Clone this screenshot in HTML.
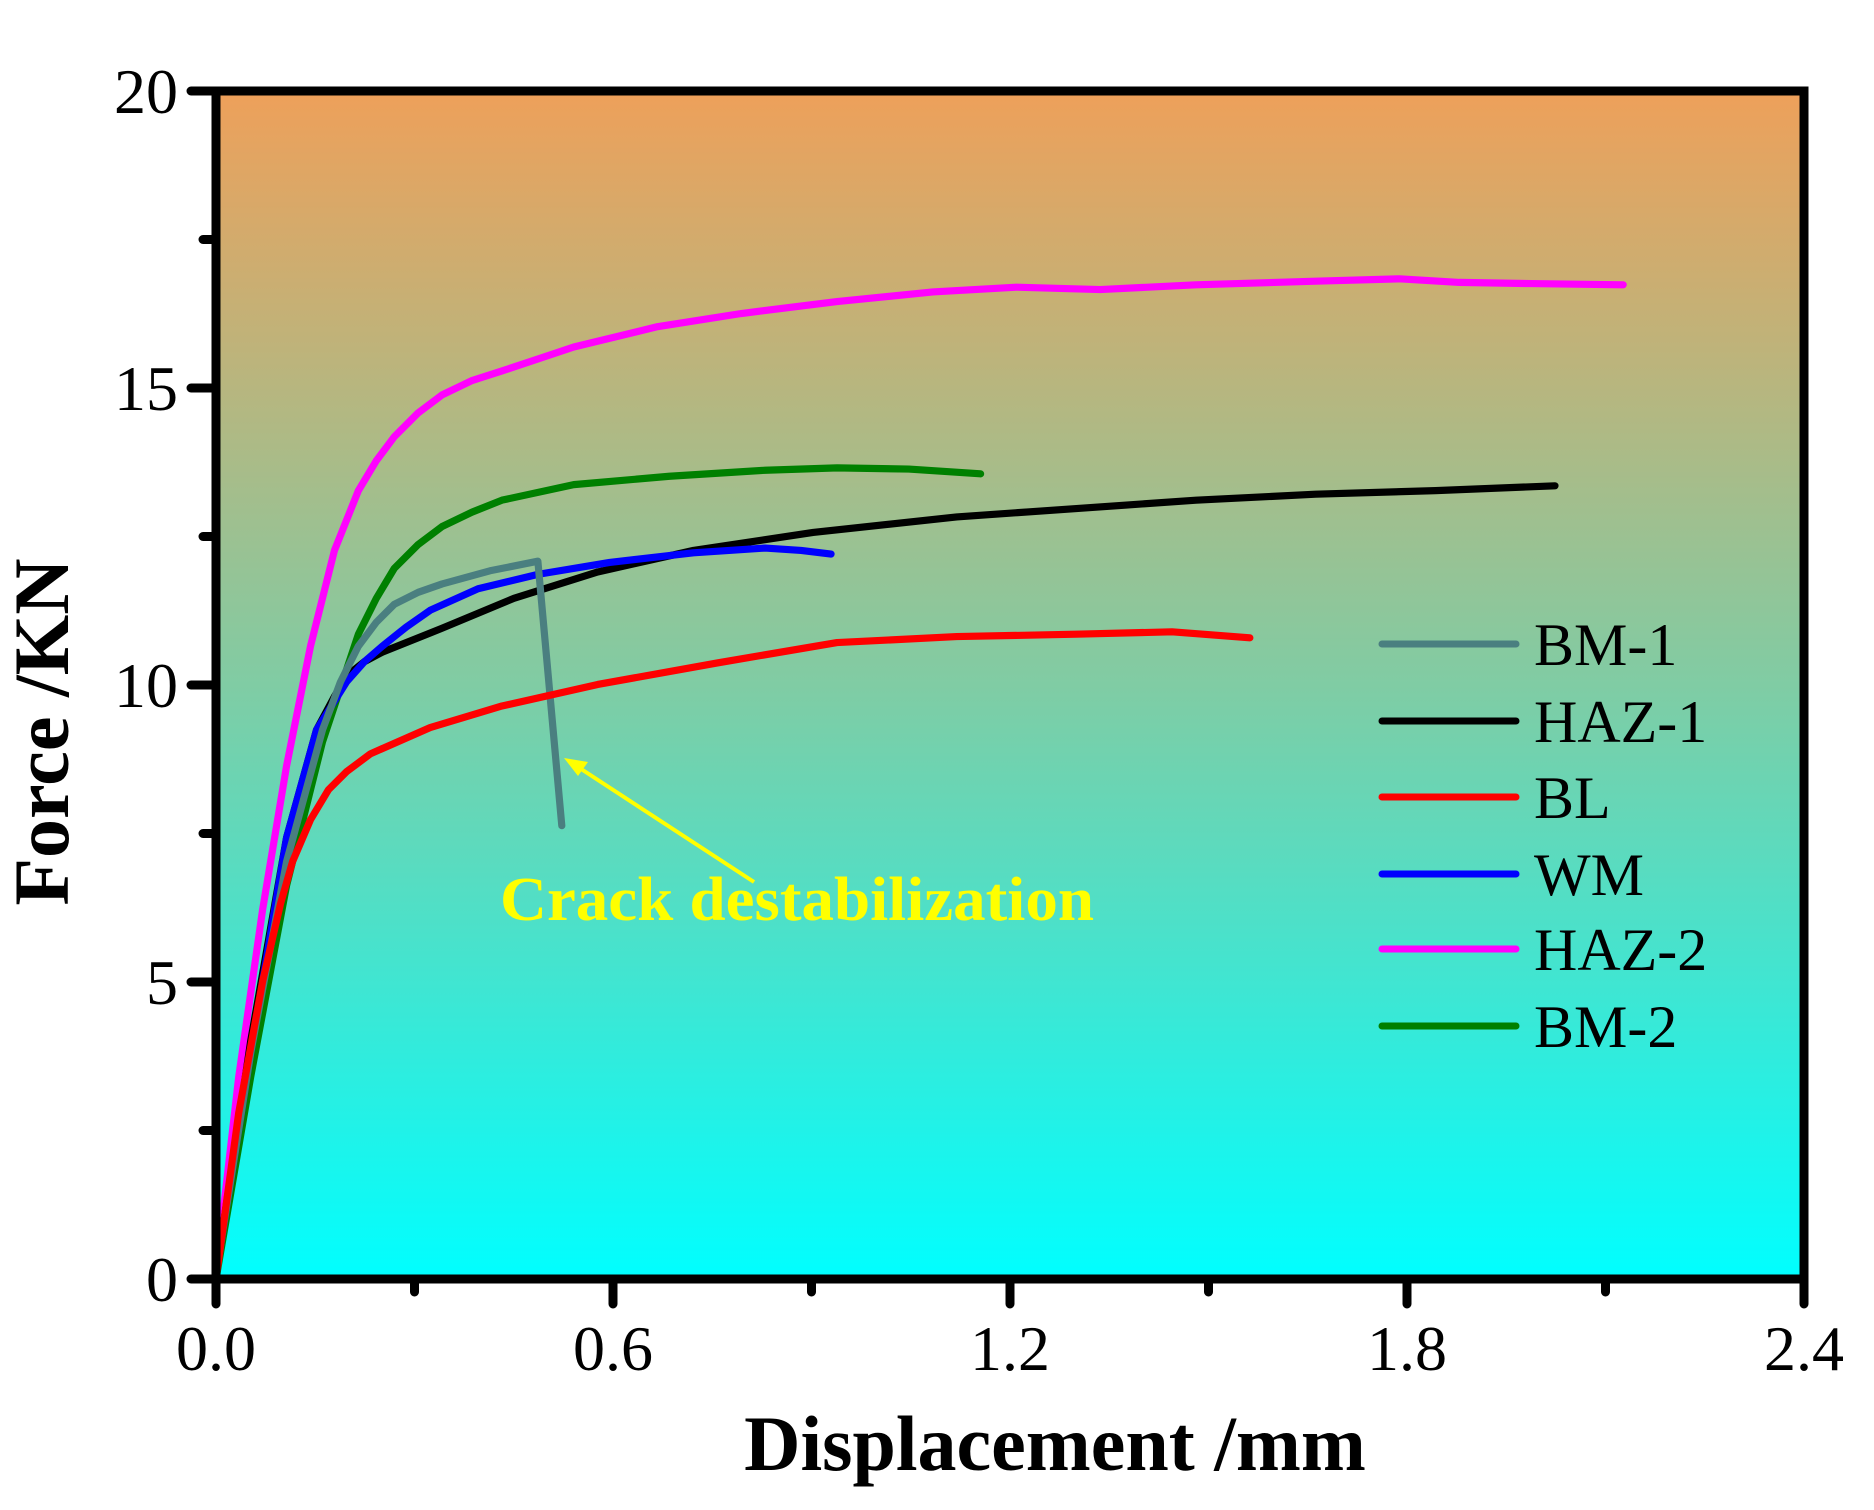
<!DOCTYPE html>
<html><head><style>html,body{margin:0;padding:0;background:#fff}svg{display:block}</style></head><body>
<svg width="1874" height="1510" viewBox="0 0 1874 1510" xmlns="http://www.w3.org/2000/svg">
<defs><linearGradient id="bg" x1="0" y1="0" x2="0" y2="1">
<stop offset="0" stop-color="#EEA05A"/><stop offset="0.5" stop-color="#80CCA4"/><stop offset="1" stop-color="#00FFFF"/></linearGradient></defs>
<rect x="216" y="91" width="1588" height="1188" fill="url(#bg)"/>
<g transform="translate(-0.6,0) scale(1.1966)" fill="none" stroke-width="6" stroke-linecap="round" stroke-linejoin="round">
<path stroke="#F0F" d="M181,1065 L200,900 L220,760 L240,640 L260,540 L280,460 L300,410 L315,385 L330,365 L350,345 L370,330 L395,318 L420,310 L450,300 L480,290 L550,273 L620,262 L700,252 L780,244 L850,240 L920,242 L1000,238 L1100,235 L1170,233 L1220,236 L1280,237 L1357,238"/>
<path stroke="#008000" d="M181,1069 L210,900 L240,740 L270,620 L300,530 L315,500 L330,475 L350,455 L370,440 L395,428 L420,418 L480,405 L560,398 L640,393 L700,391 L760,392 L820,396"/>
<path stroke="#000" d="M181,1065 L210,870 L240,700 L265,610 L280,582 L290,565 L305,553 L320,545 L370,525 L430,500 L500,478 L580,460 L680,445 L800,432 L900,425 L1000,418 L1100,413 L1200,410 L1300,406"/>
<path stroke="#0000FF" d="M181,1065 L210,880 L240,700 L265,610 L290,570 L305,553 L320,540 L340,524 L360,510 L400,492 L450,480 L510,470 L580,462 L640,458 L670,460 L695,463"/>
<path stroke="#4A7F80" d="M181,1065 L210,880 L240,720 L270,610 L285,570 L300,540 L315,520 L330,505 L350,495 L370,488 L410,477 L450,469 L470,690"/>
<path stroke="#F00" d="M181,1069 L200,930 L220,820 L235,755 L245,720 L260,685 L275,660 L290,645 L310,630 L360,608 L420,590 L500,572 L600,554 L700,537 L800,532 L900,530 L980,528 L1045,533"/>
</g>
<g stroke="#000" stroke-width="9" stroke-linecap="round" fill="none">
<rect x="216" y="91" width="1588" height="1188" stroke-linecap="butt"/>
<path d="M216,1279V1304M613,1279V1304M1010,1279V1304M1407,1279V1304M1804,1279V1304"/>
<path d="M414.5,1279V1292M811.5,1279V1292M1208.5,1279V1292M1605.5,1279V1292"/>
<path d="M216,1279H191M216,982H191M216,685H191M216,388H191M216,91H191"/>
<path d="M216,1130.5H203M216,833.5H203M216,536.5H203M216,239.5H203"/>
</g>
<g font-family="Liberation Serif, serif" font-size="64" fill="#000">
<g text-anchor="end"><text x="178" y="1301">0</text><text x="178" y="1004">5</text><text x="178" y="707">10</text><text x="178" y="410">15</text><text x="178" y="113">20</text></g>
<g text-anchor="middle"><text x="216" y="1370">0.0</text><text x="613" y="1370">0.6</text><text x="1010" y="1370">1.2</text><text x="1407" y="1370">1.8</text><text x="1804" y="1370">2.4</text></g>
</g>
<text x="1055" y="1470" text-anchor="middle" font-family="Liberation Serif, serif" font-weight="bold" font-size="78">Displacement /mm</text>
<text transform="translate(68,732) rotate(-90)" text-anchor="middle" font-family="Liberation Serif, serif" font-weight="bold" font-size="78">Force /KN</text>
<g stroke-width="7" stroke-linecap="round">
<line x1="1382" y1="644" x2="1516" y2="644" stroke="#4A7F80"/>
<line x1="1382" y1="721" x2="1516" y2="721" stroke="#000"/>
<line x1="1382" y1="797" x2="1516" y2="797" stroke="#F00"/>
<line x1="1382" y1="874" x2="1516" y2="874" stroke="#00F"/>
<line x1="1382" y1="949" x2="1516" y2="949" stroke="#F0F"/>
<line x1="1382" y1="1026" x2="1516" y2="1026" stroke="#008000"/>
</g>
<g font-family="Liberation Serif, serif" font-size="60" fill="#000">
<text x="1534" y="665">BM-1</text><text x="1534" y="742">HAZ-1</text><text x="1534" y="818">BL</text><text x="1534" y="895">WM</text><text x="1534" y="970">HAZ-2</text><text x="1534" y="1047">BM-2</text>
</g>
<line x1="754" y1="882" x2="575" y2="765" stroke="#FFFF00" stroke-width="4"/>
<polygon points="564,758 588,762 578,776" fill="#FFFF00"/>
<text x="500" y="920" font-family="Liberation Serif, serif" font-weight="bold" font-size="62" fill="#FFFF00" textLength="594" lengthAdjust="spacingAndGlyphs">Crack destabilization</text>
</svg>
</body></html>
